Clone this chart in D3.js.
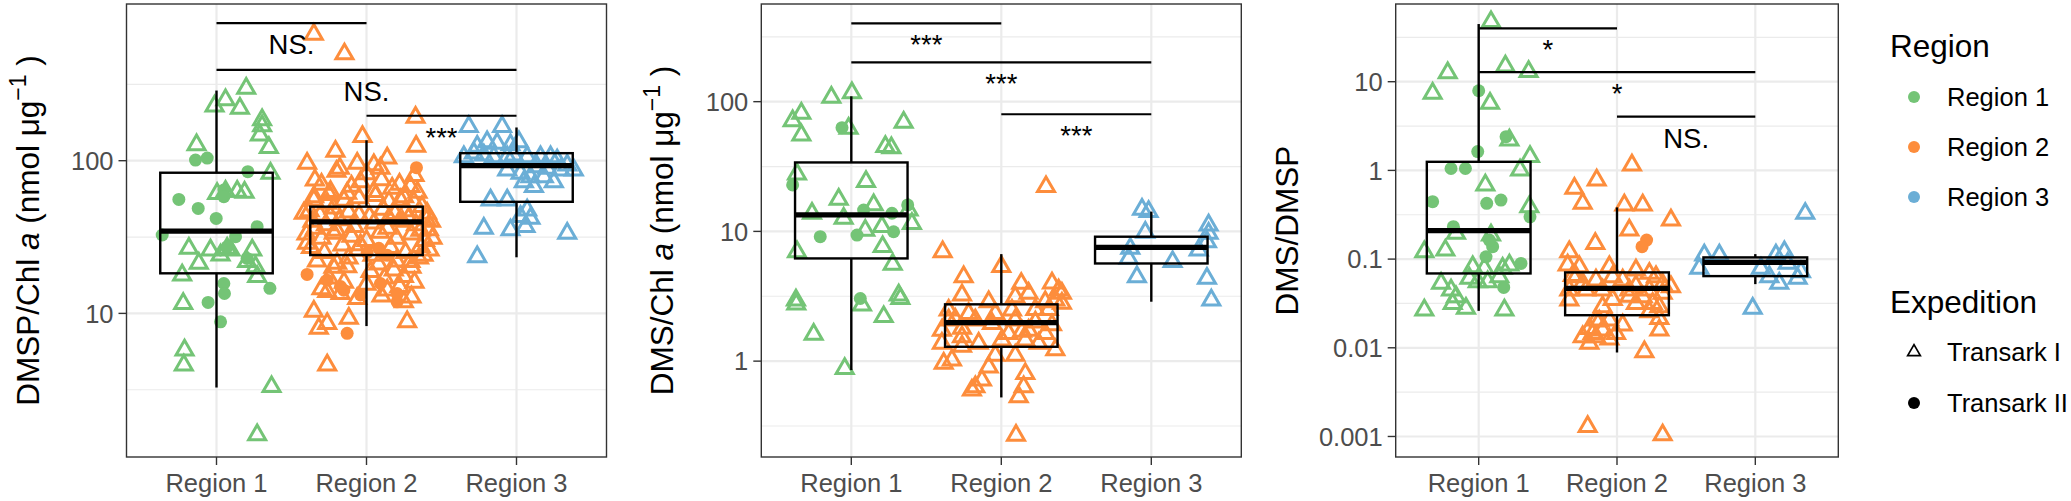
<!DOCTYPE html>
<html><head><meta charset="utf-8">
<script src="https://cdn.jsdelivr.net/npm/d3@7"></script>
<style>
body{margin:0;background:#fff}
svg{display:block}
text{font-family:"Liberation Sans",Arial,Helvetica,sans-serif}
</style>
</head><body>
<svg id="chart" width="2071" height="501"></svg>
<script>
// ---------- categories ----------
const regions = ["Region 1", "Region 2", "Region 3"];
const expeditions = ["Transark I", "Transark II"];

// ---------- tick values / labels ----------
const p1Ticks = [10, 100];
const p1TickLabels = ["10", "100"];
const p2Ticks = [1, 10, 100];
const p2TickLabels = ["1", "10", "100"];
const p3Ticks = [0.001, 0.01, 0.1, 1, 10];
const p3TickLabels = ["0.001", "0.01", "0.1", "1", "10"];

// ---------- points: [jitter (category units), value] ----------
// Panel 1: DMSP/Chl a
const p1R1T1 = [[0.198,298],[0.06,250],[-0.013,228],[0.156,220],[0.304,185],[0.304,169],[0.289,147],[0.349,122],[-0.133,127],[0.36,82.6],[0.004,61],[0.06,63],[0.138,63],[0.187,62],[-0.184,26.7],[-0.04,26],[0.027,24.1],[0.093,26],[0.238,26],[-0.118,21.3],[0.204,21.8],[0.26,20.2],[-0.229,17.8],[0.271,17.4],[-0.222,11.6],[-0.213,5.75],[-0.218,4.59],[0.367,3.31],[0.271,1.6],[0.071,26.7]];
const p1R1T2 = [[-0.14,101],[-0.062,104],[0.209,84.7],[-0.251,55.8],[-0.122,48.7],[-0.002,41.9],[0.049,64.3],[0.049,58.1],[0.271,37],[-0.362,32.6],[0.127,31.8],[0.071,27.3],[0.204,22.9],[0.049,15.7],[0.053,13.5],[0.356,14.6],[-0.056,11.8],[0.027,8.81]];
const p1R2T1 = [[-0.351,673],[-0.147,500],[0.327,192],[-0.027,144],[0.331,124],[-0.207,115],[-0.396,96],[-0.178,89],[-0.062,96],[0.049,94],[0.138,104],[0.093,89],[-0.04,72.8],[-0.344,74.6],[0.293,67.6],[0.171,65.9],[-0.24,62.7],[-0.129,61.1],[0.049,62.7],[-0.351,55.2],[-0.262,52.6],[0.227,55.2],[0.316,53.8],[-0.418,45.2],[0.404,45.2],[0.416,35.2],[-0.218,33.4],[-0.396,28.8],[-0.04,28.1],[0.36,27.4],[-0.196,21.3],[0.027,18.8],[0.293,21.8],[-0.129,20.2],[0.182,19.2],[0.249,17.4],[-0.262,13.9],[-0.173,13.5],[-0.062,12.5],[0.138,14.2],[0.249,11.9],[-0.351,10.3],[-0.118,9.27],[-0.262,8.59],[-0.318,7.98],[0.271,8.81],[-0.262,4.59],
 [-0.38,47],[-0.31,44],[-0.22,49],[-0.12,46],[0.02,43],[0.11,48],[0.19,45],[0.28,42],[0.37,50],
 [-0.36,40],[-0.27,38],[-0.18,41],[-0.08,37],[0.05,39],[0.14,36],[0.24,40],[0.33,38],[0.4,41],
 [-0.4,33],[-0.3,31],[-0.2,35],[-0.1,32],[0.0,30],[0.09,34],[0.2,31],[0.3,33],[0.39,30],
 [-0.37,27],[-0.28,25],[-0.16,28],[-0.06,26],[0.04,24],[0.16,27],[0.26,25],[0.35,23],
 [-0.33,22],[-0.22,20],[-0.12,23],[0.08,21],[0.2,22],[0.3,20],[0.38,24],
 [-0.35,58],[-0.25,60],[-0.15,55],[-0.05,57],[0.06,59],[0.15,54],[0.25,58],[0.34,62],
 [-0.3,70],[-0.1,68],[0.1,75],[0.22,70],[0.32,80],[-0.2,85],[0.0,82],
 [-0.25,17],[-0.15,16],[0.0,15.5],[0.12,17],[0.22,15],[0.32,16],[-0.3,14.5],[0.1,13],[0.3,12.8],
 [-0.34,36],[0.36,35],[-0.05,44],[0.15,42],[-0.24,43],[0.26,47],[0.43,40],[0.44,31],[0.42,26]];
const p1R2T2 = [[0.333,90],[-0.396,18],[-0.262,16.5],[-0.129,7.4],[-0.151,14.2],[0.204,11.9],[0.093,15.7],[-0.04,13.2],[-0.173,15],[0.204,13.5],[0.082,26.7],[0.138,24],[0.004,25]];
const p1R3T1 = [[-0.318,167],[-0.096,167],[-0.262,124],[-0.196,133],[-0.129,130],[-0.04,127],[0.016,133],[-0.351,106],[-0.284,112],[-0.218,109],[-0.151,106],[-0.062,106],[-0.018,109],[0.071,106],[0.16,106],[0.227,106],[0.271,101],[0.338,93.7],[0.382,86.9],[-0.062,86.9],[0.027,82.6],[0.093,78.5],[0.182,78.5],[0.249,72.8],[0.116,67.6],[0.049,72.8],[0.293,86.9],[-0.173,55.2],[-0.062,55.2],[0.071,47.5],[0.093,41.9],[-0.218,36.1],[-0.04,35.2],[0.06,37],[0.027,43],[0.338,33.4],[-0.262,23.5],[0.204,89],[0.138,91.3]];
const p1R3T2 = [];

// Panel 2: DMS/Chl a
const p2R1T1 = [[0.004,117],[-0.133,108],[-0.333,81.3],[-0.391,71.3],[-0.333,55.3],[-0.018,62.2],[0.349,69.3],[0.227,45],[0.267,44],[-0.362,27.7],[0.098,24.2],[-0.084,17.7],[0.149,16],[-0.262,13.8],[-0.051,12.6],[0.382,14.6],[0.204,10.9],[0.093,10.2],[0.404,11.5],[-0.362,6.97],[0.209,7.62],[0.276,5.57],[-0.369,2.95],[-0.367,2.75],[0.316,3.23],[0.327,3.04],[0.071,2.7],[0.216,2.2],[-0.251,1.61],[-0.044,0.877]];
const p2R1T2 = [[-0.062,63],[-0.391,22.8],[0.082,14.6],[0.271,13.8],[-0.207,9.1],[0.038,9.37],[0.282,9.94],[0.376,16],[0.06,3.04]];
const p2R2T1 = [[0.298,22.1],[-0.391,6.97],[0,5.35],[-0.251,4.47],[0.133,3.97],[0.338,4.0],[0.382,3.53],[-0.262,3.23],[0.182,3.33],[0.093,3.13],[-0.084,2.87],[0.404,2.79],[0.293,2.87],[-0.351,2.47],[-0.218,2.33],[-0.04,2.33],[0.071,2.47],[0.227,2.5],[-0.351,2.07],[-0.173,2.07],[-0.062,1.95],[0.093,2.07],[0.338,1.9],[-0.396,1.73],[-0.262,1.79],[0.182,1.73],[0.293,1.63],[0.004,1.45],[0.16,1.45],[-0.396,1.37],[-0.151,1.37],[0.249,1.37],[0.36,1.22],[-0.329,1.02],[0.093,1.11],[-0.04,1.11],[-0.384,0.96],[-0.084,0.9],[0.16,0.8],[-0.129,0.713],[-0.173,0.634],[-0.196,0.597],[0.149,0.634],[0.116,0.531],[0.098,0.268],[0.049,1.63],[-0.262,1.54],[0.36,2.95],[0.404,3.33],[-0.307,2.1],[0.138,1.7],[0.227,2.0],[0.316,2.5],[-0.262,1.3]];
const p2R2T2 = [];
const p2R3T1 = [[-0.062,14.8],[-0.018,14.2],[0.382,11.2],[0.382,9.66],[-0.04,9.82],[0.371,8.32],[0.316,7.18],[-0.14,7.39],[-0.151,6.19],[0.142,5.84],[-0.096,4.47],[0.371,4.34],[0.4,2.95]];
const p2R3T2 = [];

// Panel 3: DMS/DMSP
const p3R1T1 = [[0.089,47.5],[-0.224,12.6],[0.193,15],[0.361,13],[-0.333,7.38],[0.082,5.7],[0.371,1.43],[0.299,1.01],[0.048,0.684],[0.366,0.389],[-0.393,0.121],[-0.241,0.126],[0.089,0.187],[-0.164,0.195],[-0.043,0.082],[0.041,0.0785],[0.173,0.0785],[0.222,0.0855],[-0.272,0.0532],[-0.067,0.0606],[-0.007,0.0555],[0.065,0.0555],[0.149,0.0632],[-0.2,0.0447],[-0.164,0.0376],[-0.188,0.0316],[-0.092,0.0278],[-0.393,0.0266],[0.186,0.0266],[0.222,2.2]];
const p3R1T2 = [[0,7.91],[0.198,2.4],[-0.007,1.63],[-0.2,1.05],[-0.096,1.05],[-0.333,0.444],[0.058,0.425],[0.161,0.463],[0.371,0.3],[-0.183,0.232],[0.101,0.138],[0.053,0.106],[0.306,0.0893],[0.181,0.0479],[0.077,0.164]];
const p3R2T1 = [[0.108,1.15],[-0.147,0.778],[-0.308,0.627],[-0.248,0.425],[0.053,0.407],[0.186,0.407],[0.39,0.275],[0.089,0.212],[-0.157,0.15],[-0.345,0.121],[-0.357,0.0855],[-0.272,0.082],[-0.055,0.082],[0.137,0.0752],[0.234,0.0689],[-0.296,0.0632],[-0.152,0.058],[0.041,0.058],[0.282,0.0632],[0.39,0.0488],[-0.345,0.0447],[-0.224,0.0447],[-0.104,0.0447],[0.089,0.0447],[0.234,0.0447],[0.33,0.041],[-0.345,0.0345],[-0.104,0.029],[0.137,0.0316],[0.258,0.0316],[0.306,0.029],[0.306,0.0214],[-0.152,0.0205],[-0.055,0.0205],[0.041,0.018],[-0.2,0.0165],[-0.104,0.0158],[-0.248,0.0133],[-0.152,0.0133],[-0.007,0.0145],[-0.2,0.0112],[0.306,0.0158],[0.198,0.00901],[-0.212,0.00129],[0.33,0.00104],[0.234,0.0255],[0.186,0.0376],[-0.248,0.0532],[-0.031,0.0632],[-0.32,0.065],[0.137,0.05],[0.33,0.052],[0.089,0.038],[-0.031,0.035],[-0.128,0.02],[-0.055,0.0125],[-0.176,0.0145]];
const p3R2T2 = [[0.214,0.164],[0.181,0.138]];
const p3R3T1 = [[0.361,0.327],[-0.369,0.111],[-0.26,0.111],[-0.405,0.0785],[0.041,0.0785],[0.149,0.111],[0.21,0.121],[0.234,0.0893],[0.101,0.0632],[0.173,0.0532],[0.306,0.0606],[0.33,0.0719],[-0.019,0.0278]];
const p3R3T2 = [];

// ---------- box statistics: [whiskerLow, q1, median, q3, whiskerHigh] per region ----------
const p1Box = [[3.27, 18.3, 34.6, 83.4, 288], [8.26, 24.1, 39.8, 50.0, 136], [23.3, 53.8, 92.7, 112, 165]];
const p2Box = [[0.853, 6.19, 13.4, 34.0, 110], [0.525, 1.29, 1.98, 2.74, 6.68], [2.87, 5.66, 7.53, 9.1, 14.2]];
const p3Box = [[0.0261, 0.0689, 0.209, 1.25, 44.7], [0.00885, 0.0233, 0.0467, 0.0708, 0.383], [0.0522, 0.0643, 0.0917, 0.1045, 0.1138]];

// ---------- significance brackets: [fromRegion, toRegion, height, label] ----------
const p1Sig = [[0, 1, 795, "NS."], [0, 2, 393, "NS."], [1, 2, 197, "***"]];
const p2Sig = [[0, 1, 402, "***"], [0, 2, 201, "***"], [1, 2, 80, "***"]];
const p3Sig = [[0, 1, 40, "*"], [0, 2, 12.8, "*"], [1, 2, 4.03, "NS."]];

// ---------- styling / layout ----------
const regionColors = ["#74C476", "#FD8D3C", "#6BAED6"];
const plotTop = 4, plotBottom = 457;
const panels = [
  { left: 126.5, right: 606.5, domain: [1.147, 1062], ticks: p1Ticks, tickLabels: p1TickLabels,
    pts: [[p1R1T1, p1R1T2], [p1R2T1, p1R2T2], [p1R3T1, p1R3T2]], box: p1Box, sig: p1Sig,
    titleX: 38.5, title: "DMSP/Chl" },
  { left: 761.3, right: 1241.3, domain: [0.1824, 566], ticks: p2Ticks, tickLabels: p2TickLabels,
    pts: [[p2R1T1, p2R1T2], [p2R2T1, p2R2T2], [p2R3T1, p2R3T2]], box: p2Box, sig: p2Sig,
    titleX: 673, title: "DMS/Chl" },
  { left: 1395.7, right: 1838.3, domain: [0.000587, 75.2], ticks: p3Ticks, tickLabels: p3TickLabels,
    pts: [[p3R1T1, p3R1T2], [p3R2T1, p3R2T2], [p3R3T1, p3R3T2]], box: p3Box, sig: p3Sig,
    titleX: 1298, title: null }
];

const svg = d3.select("#chart");
svg.append("rect").attr("width", 2071).attr("height", 501).attr("fill", "#fff");

const tri = d3.symbol().type(d3.symbolTriangle).size(125)();
const FONT_TICK = 25.5, FONT_TITLE = 31.5, FONT_SIG = 27.5;

panels.forEach(p => {
  const x = d3.scalePoint().domain(regions).range([p.left, p.right]).padding(0.6);
  const step = x.step();
  const y = d3.scaleLog().domain(p.domain).range([plotBottom, plotTop]);
  const g = svg.append("g");

  // minor gridlines (half-decades)
  const lo = Math.floor(Math.log10(p.domain[0])), hi = Math.ceil(Math.log10(p.domain[1]));
  const minors = d3.range(lo, hi).map(k => Math.pow(10, k + 0.5)).filter(v => v > p.domain[0] && v < p.domain[1]);
  g.selectAll(".minor").data(minors).join("line")
    .attr("x1", p.left).attr("x2", p.right).attr("y1", d => y(d)).attr("y2", d => y(d))
    .attr("stroke", "#EBEBEB").attr("stroke-width", 1.2);
  // major horizontal
  g.selectAll(".major").data(p.ticks).join("line")
    .attr("x1", p.left).attr("x2", p.right).attr("y1", d => y(d)).attr("y2", d => y(d))
    .attr("stroke", "#EBEBEB").attr("stroke-width", 2.2);
  // major vertical
  g.selectAll(".vmajor").data(regions).join("line")
    .attr("x1", d => x(d)).attr("x2", d => x(d)).attr("y1", plotTop).attr("y2", plotBottom)
    .attr("stroke", "#EBEBEB").attr("stroke-width", 2.2);

  // points
  regions.forEach((r, i) => {
    const cx = x(r);
    g.append("g").selectAll("path").data(p.pts[i][0]).join("path")
      .attr("d", tri)
      .attr("transform", d => `translate(${cx + d[0] * step},${y(d[1])})`)
      .attr("fill", "none").attr("stroke", regionColors[i]).attr("stroke-width", 3);
    g.append("g").selectAll("circle").data(p.pts[i][1]).join("circle")
      .attr("cx", d => cx + d[0] * step).attr("cy", d => y(d[1])).attr("r", 6.5)
      .attr("fill", regionColors[i]);
  });

  // boxes
  const bw = 0.375 * step;
  p.box.forEach((b, i) => {
    const cx = x(regions[i]);
    g.append("line").attr("x1", cx).attr("x2", cx).attr("y1", y(b[4])).attr("y2", y(b[3]))
      .attr("stroke", "#000").attr("stroke-width", 2.4);
    g.append("line").attr("x1", cx).attr("x2", cx).attr("y1", y(b[1])).attr("y2", y(b[0]))
      .attr("stroke", "#000").attr("stroke-width", 2.4);
    g.append("rect").attr("x", cx - bw).attr("width", 2 * bw)
      .attr("y", y(b[3])).attr("height", y(b[1]) - y(b[3]))
      .attr("fill", "none").attr("stroke", "#000").attr("stroke-width", 2.4);
    g.append("line").attr("x1", cx - bw).attr("x2", cx + bw).attr("y1", y(b[2])).attr("y2", y(b[2]))
      .attr("stroke", "#000").attr("stroke-width", 5.2);
  });

  // significance brackets
  p.sig.forEach(s => {
    const x1 = x(regions[s[0]]), x2 = x(regions[s[1]]), yy = y(s[2]);
    g.append("line").attr("x1", x1).attr("x2", x2).attr("y1", yy).attr("y2", yy)
      .attr("stroke", "#000").attr("stroke-width", 2.2);
    g.append("text").attr("x", (x1 + x2) / 2).attr("y", yy + 31)
      .attr("text-anchor", "middle").attr("font-size", FONT_SIG).attr("fill", "#000").text(s[3]);
  });

  // panel border
  g.append("rect").attr("x", p.left).attr("y", plotTop).attr("width", p.right - p.left).attr("height", plotBottom - plotTop)
    .attr("fill", "none").attr("stroke", "#333").attr("stroke-width", 1.4);

  // y axis ticks + labels
  p.ticks.forEach((t, k) => {
    g.append("line").attr("x1", p.left - 8).attr("x2", p.left).attr("y1", y(t)).attr("y2", y(t))
      .attr("stroke", "#333").attr("stroke-width", 1.4);
    g.append("text").attr("x", p.left - 13).attr("y", y(t)).attr("dy", "0.36em")
      .attr("text-anchor", "end").attr("font-size", FONT_TICK).attr("fill", "#4D4D4D").text(p.tickLabels[k]);
  });
  // x axis ticks + labels
  regions.forEach(r => {
    g.append("line").attr("x1", x(r)).attr("x2", x(r)).attr("y1", plotBottom).attr("y2", plotBottom + 8)
      .attr("stroke", "#333").attr("stroke-width", 1.4);
    g.append("text").attr("x", x(r)).attr("y", 492)
      .attr("text-anchor", "middle").attr("font-size", FONT_TICK).attr("fill", "#4D4D4D").text(r);
  });

  // y title
  const t = g.append("text").attr("transform", `translate(${p.titleX},${(plotTop + plotBottom) / 2}) rotate(-90)`)
    .attr("text-anchor", "middle").attr("font-size", FONT_TITLE).attr("fill", "#000");
  if (p.title) {
    t.append("tspan").text(p.title + " ");
    t.append("tspan").attr("font-style", "italic").text("a");
    t.append("tspan").text(" (nmol \u03BCg");
    t.append("tspan").attr("font-size", 23).attr("dy", -13).text("\u22121");
    t.append("tspan").attr("dy", 13).text(" )");
  } else {
    t.text("DMS/DMSP");
  }
});

// ---------- legend ----------
const lg = svg.append("g");
lg.append("text").attr("x", 1890).attr("y", 57).attr("font-size", FONT_TITLE).attr("fill", "#000").text("Region");
regions.forEach((r, i) => {
  const yy = 97 + i * 50;
  lg.append("circle").attr("cx", 1914).attr("cy", yy).attr("r", 6).attr("fill", regionColors[i]);
  lg.append("text").attr("x", 1947).attr("y", yy).attr("dy", "0.36em").attr("font-size", FONT_TICK).attr("fill", "#000").text(r);
});
lg.append("text").attr("x", 1890).attr("y", 313).attr("font-size", FONT_TITLE).attr("fill", "#000").text("Expedition");
const triSmall = d3.symbol().type(d3.symbolTriangle).size(70)();
expeditions.forEach((e, i) => {
  const yy = 352 + i * 51;
  if (i === 0) {
    lg.append("path").attr("d", triSmall).attr("transform", `translate(1914,${yy})`)
      .attr("fill", "none").attr("stroke", "#000").attr("stroke-width", 1.7);
  } else {
    lg.append("circle").attr("cx", 1914).attr("cy", yy).attr("r", 6).attr("fill", "#000");
  }
  lg.append("text").attr("x", 1947).attr("y", yy).attr("dy", "0.36em").attr("font-size", FONT_TICK).attr("fill", "#000").text(e);
});
</script>
</body></html>
